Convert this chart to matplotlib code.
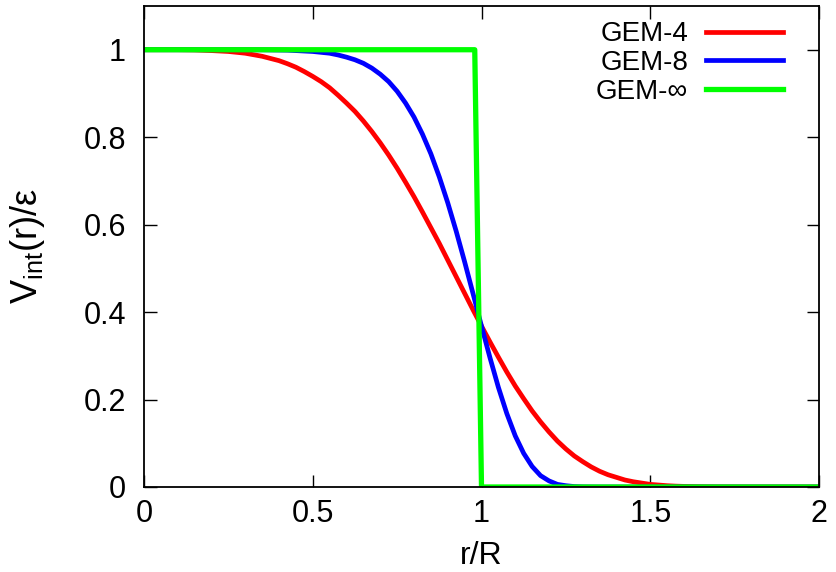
import numpy as np
import matplotlib.pyplot as plt

plt.rcParams['font.family'] = ['Liberation Sans', 'DejaVu Sans']
plt.rcParams['mathtext.fontset'] = 'custom'
plt.rcParams['mathtext.rm'] = 'Liberation Sans'

# values
r = [0.00, 0.05, 0.10, 0.15, 0.20, 0.25, 0.30, 0.35, 0.40, 0.425, 0.45, 0.475,
     0.50, 0.525, 0.55, 0.575, 0.60, 0.625, 0.65, 0.675, 0.70, 0.725, 0.75, 0.775,
     0.80, 0.825, 0.85, 0.875, 0.90, 0.925, 0.95, 0.975, 1.00, 1.025, 1.05, 1.075,
     1.10, 1.125, 1.15, 1.175, 1.20, 1.225, 1.25, 1.275, 1.30, 1.325, 1.35, 1.375,
     1.40, 1.425, 1.45, 1.475, 1.50, 1.525, 1.55, 1.575, 1.60, 1.65, 1.70, 1.75,
     1.80, 1.85, 1.90, 1.95, 2.00]
gem4 = [1.000, 1.000, 1.000, 0.9995, 0.998, 0.996, 0.992, 0.985, 0.975, 0.968, 0.960, 0.950,
        0.939, 0.927, 0.913, 0.896, 0.878, 0.859, 0.837, 0.813, 0.787, 0.759, 0.729, 0.697,
        0.664, 0.629, 0.593, 0.557, 0.519, 0.481, 0.443, 0.405, 0.368, 0.332, 0.297, 0.263,
        0.231, 0.202, 0.174, 0.149, 0.126, 0.105, 0.087, 0.071, 0.058, 0.046, 0.036, 0.028,
        0.022, 0.016, 0.012, 0.009, 0.006, 0.0045, 0.003, 0.002, 0.0014, 0.0006, 0.0002, 0.0001,
        0.0, 0.0, 0.0, 0.0, 0.0]
gem8 = [1.000, 1.000, 1.000, 1.000, 1.000, 1.000, 1.000, 0.9998, 0.9993, 0.999, 0.998, 0.997,
        0.996, 0.994, 0.992, 0.988, 0.983, 0.977, 0.969, 0.958, 0.944, 0.927, 0.905, 0.878,
        0.846, 0.807, 0.762, 0.709, 0.650, 0.585, 0.515, 0.442, 0.368, 0.296, 0.228, 0.168,
        0.117, 0.077, 0.047, 0.026, 0.014, 0.006, 0.003, 0.001, 0.0003, 0.0001, 0.0, 0.0,
        0.0, 0.0, 0.0, 0.0, 0.0, 0.0, 0.0, 0.0, 0.0, 0.0, 0.0, 0.0,
        0.0, 0.0, 0.0, 0.0, 0.0]
r_inf = [0.0, 0.98, 1.0, 2.0]
gem_inf = [1.0, 1.0, 0.0, 0.0]

fig = plt.figure(figsize=(8.36, 5.72), dpi=100)
ax = fig.add_axes([144/836, 1 - 487/572, (819 - 144)/836, (487 - 6)/572])

ax.plot(r, gem4, color='#ff0000', lw=3.4, label='GEM-4')
ax.plot(r, gem8, color='#0000ff', lw=3.4, label='GEM-8')
ax.plot(r_inf, gem_inf, color='#00ff00', lw=3.8, label='GEM-∞')

ax.set_xlim(0, 2)
ax.set_ylim(0, 1.1)
ax.set_xticks([0, 0.5, 1, 1.5, 2])
ax.set_xticklabels(['0', '0.5', '1', '1.5', '2'])
ax.set_yticks([0, 0.2, 0.4, 0.6, 0.8, 1])
ax.set_yticklabels(['0', '0.2', '0.4', '0.6', '0.8', '1'])
ax.tick_params(direction='in', length=9, width=1, labelsize=22,
               top=True, right=True)
ax.tick_params(axis='x', pad=9)
ax.tick_params(axis='y', pad=13)
for s in ax.spines.values():
    s.set_linewidth(1.3)

ax.set_xlabel('r/R', fontsize=23)
ax.xaxis.label.set_va('baseline')
ax.xaxis.set_label_coords(0.5, -0.160)
ax.set_ylabel(r'V$_{\mathregular{int}}$(r)/ε', fontsize=26)
ax.yaxis.label.set_va('baseline')
ax.yaxis.set_label_coords(-0.1585, 0.5)

leg = ax.legend(loc='upper right', bbox_to_anchor=(0.946, 0.968), frameon=False,
                fontsize=20, markerfirst=False, handlelength=2.75,
                labelspacing=0.1, handletextpad=0.65, borderaxespad=0,
                borderpad=0)

fig.savefig('out.png', dpi=100)
